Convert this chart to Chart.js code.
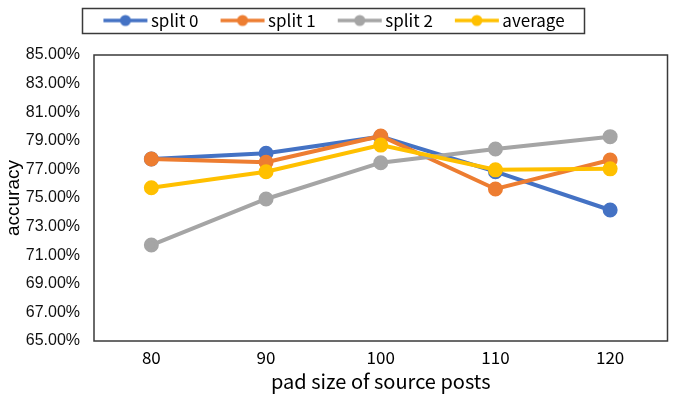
<!DOCTYPE html>
<html><head><meta charset="utf-8">
<script src="https://cdn.jsdelivr.net/npm/chart.js@4/dist/chart.umd.min.js"></script>
<style>html,body{margin:0;padding:0;background:#fff}canvas{display:block}</style>
</head><body>
<canvas id="c" width="677" height="401"></canvas>
<script>
const categories = ['80', '90', '100', '110', '120'];
const seriesNames = ['split 0', 'split 1', 'split 2', 'average'];
const split0 = [77.73, 78.13, 79.29, 76.84, 74.16];
const split1 = [77.73, 77.50, 79.34, 75.63, 77.66];
const split2 = [71.71, 74.93, 77.47, 78.43, 79.29];
const average = [75.72, 76.84, 78.70, 76.97, 77.04];
const yTickValues = [65, 67, 69, 71, 73, 75, 77, 79, 81, 83, 85];
const xTitle = 'pad size of source posts';
const yTitle = 'accuracy';

const colors = ['#4472C4', '#ED7D31', '#A5A5A5', '#FFC000'];
const seriesData = [split0, split1, split2, average];

function legendIcon(color) {
  const cv = document.createElement('canvas');
  cv.width = 46; cv.height = 14;
  const g = cv.getContext('2d');
  g.strokeStyle = color; g.lineWidth = 3.5; g.lineCap = 'butt';
  g.beginPath(); g.moveTo(1, 7); g.lineTo(45, 7); g.stroke();
  g.fillStyle = color;
  g.beginPath(); g.arc(23, 7, 5.5, 0, Math.PI * 2); g.fill();
  return cv;
}
const icons = colors.map(legendIcon);

const LEGEND_PAD = 27;

const framePlugin = {
  id: 'frames',
  afterInit(chart) {
    const lg = chart.legend;
    if (lg && !lg._patched) {
      const orig = lg.fit.bind(lg);
      lg.fit = function () { orig(); this.height = 70; };
      lg._patched = true;
    }
  },
  afterDraw(chart) {
    const ctx = chart.ctx;
    const a = chart.chartArea;
    ctx.save();
    ctx.strokeStyle = '#3a3a3a';
    ctx.lineWidth = 1.5;
    ctx.strokeRect(a.left, a.top, a.right - a.left, a.bottom - a.top);
    const lg = chart.legend;
    if (lg && lg.legendHitBoxes && lg.legendHitBoxes.length) {
      const hb = lg.legendHitBoxes;
      let minX = Infinity, maxX = -Infinity, minY = Infinity, maxY = -Infinity;
      hb.forEach(b => {
        minX = Math.min(minX, b.left); maxX = Math.max(maxX, b.left + b.width);
        minY = Math.min(minY, b.top); maxY = Math.max(maxY, b.top + b.height);
      });
      ctx.strokeRect(Math.round(minX - 26) + 0.5, Math.round(minY - 4) + 0.5, Math.round(maxX - minX + 46), 25);
    }
    ctx.restore();
  }
};

new Chart(document.getElementById('c'), {
  type: 'line',
  data: {
    labels: categories,
    datasets: seriesNames.map((n, i) => ({
      label: n,
      data: seriesData[i],
      order: seriesNames.length - 1 - i,
      borderColor: colors[i],
      backgroundColor: colors[i],
      pointBackgroundColor: colors[i],
      pointBorderColor: colors[i],
      borderWidth: 4,
      pointRadius: 5.5,
      pointHoverRadius: 5.5,
      tension: 0,
      fill: false
    }))
  },
  options: {
    responsive: false,
    animation: false,
    devicePixelRatio: 1,
    layout: { padding: { top: -15, right: 6, bottom: 6, left: 2 } },
    plugins: {
      tooltip: { enabled: false },
      legend: {
        position: 'top',
        labels: {
          usePointStyle: true,
          pointStyleWidth: 34,
          boxHeight: 14,
          padding: LEGEND_PAD,
          color: '#000',
          font: { family: "'Noto Sans CJK SC', 'Noto Sans', sans-serif", size: 17 },
          generateLabels(chart) {
            return chart.data.datasets.map((d, i) => ({
              text: d.label,
              fillStyle: colors[i],
              strokeStyle: colors[i],
              lineWidth: 0,
              pointStyle: icons[i],
              hidden: false,
              datasetIndex: i,
              fontColor: '#000'
            }));
          }
        }
      }
    },
    scales: {
      x: {
        offset: true,
        afterFit(scale) { scale.height = 54; },
        grid: { display: false, drawTicks: false },
        border: { display: false },
        ticks: {
          color: '#000',
          padding: 6,
          font: { family: "'Noto Sans CJK SC', 'Noto Sans', sans-serif", size: 17 }
        },
        title: {
          display: true,
          text: xTitle,
          color: '#000',
          padding: { top: 0, bottom: 2 },
          font: { family: "'Noto Sans CJK SC', 'Noto Sans', sans-serif", size: 20 }
        }
      },
      y: {
        min: 65,
        max: 85,
        afterFit(scale) { scale.width = 92; },
        afterBuildTicks(scale) { scale.ticks = yTickValues.map(v => ({ value: v })); },
        grid: { display: false, drawTicks: false },
        border: { display: false },
        ticks: {
          color: '#111',
          padding: 14,
          font: { family: "'Liberation Sans', Arial, sans-serif", size: 16 },
          callback: v => v.toFixed(2) + '%'
        },
        title: {
          display: true,
          text: yTitle,
          color: '#000',
          padding: { top: 0, bottom: 4 },
          font: { family: "'Liberation Sans', Arial, sans-serif", size: 19 }
        }
      }
    }
  },
  plugins: [framePlugin]
});
</script>
</body></html>
